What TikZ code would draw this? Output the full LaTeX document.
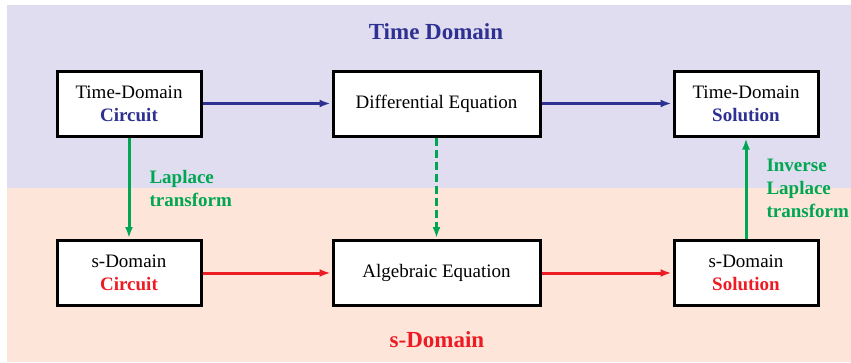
\documentclass[tikz,border=0pt]{standalone}
\usepackage{fontspec}
\setmainfont{Liberation Serif}
\usetikzlibrary{arrows.meta}
\usetikzlibrary{positioning}
\definecolor{timebg}{RGB}{224,221,240}
\definecolor{sbg}{RGB}{253,229,218}
\definecolor{tblue}{RGB}{46,49,146}
\definecolor{sred}{RGB}{237,28,36}
\definecolor{lgreen}{RGB}{0,166,81}

\begin{document}
\begin{tikzpicture}[x=1pt,y=-1pt,
  blok/.style={draw,line width=3pt,fill=white,minimum width=144pt,minimum height=65pt,
    inner sep=0pt,align=center,font=\fontsize{19}{23}\selectfont},
  wideblok/.style={blok,minimum width=207pt},
  flow/.style={line width=3pt,-{Latex[length=11pt,width=8pt]},shorten >=1pt},
  lbl/.style={align=left,anchor=west,text=lgreen,font=\bfseries\fontsize{19}{23}\selectfont},
  title/.style={font=\bfseries\fontsize{23}{27}\selectfont}]
\useasboundingbox (0,0) rectangle (851,362);
% backgrounds
\fill[timebg] (7,5) rectangle (851,188);
\fill[sbg] (7,188) rectangle (851,362);
\node[title,text=tblue] (tdom) at (436,32) {Time Domain};
\node[title,text=sred] (sdom) at (437,340) {s-Domain};
% boxes
\node[blok] (tc) at (129,103.5) {Time-Domain\\\textbf{\color{tblue}Circuit}};
\node[wideblok] (de) at (436.5,103.5) {Differential Equation};
\node[blok] (ts) at (746,103.5) {Time-Domain\\\textbf{\color{tblue}Solution}};
\node[blok] (sc) at (129,273) {s-Domain\\\textbf{\color{sred}Circuit}};
\node[wideblok] (ae) at (436.5,273) {Algebraic Equation};
\node[blok] (ss) at (746,273) {s-Domain\\\textbf{\color{sred}Solution}};
% arrows
\draw[flow,tblue] (tc) -- (de);
\draw[flow,tblue] (de) -- (ts);
\draw[flow,sred] (sc) -- (ae);
\draw[flow,sred] (ae) -- (ss);
\draw[flow,lgreen] (tc) -- (sc);
\draw[flow,lgreen,dashed,dash pattern=on 8pt off 4pt] (de) -- (ae);
\draw[flow,lgreen] (ss) -- (ts);
\node[lbl] (lt) at (146,188) {Laplace\\transform};
\node[lbl] (ilt) at (763,188) {Inverse\\Laplace\\transform};
\end{tikzpicture}
\end{document}
